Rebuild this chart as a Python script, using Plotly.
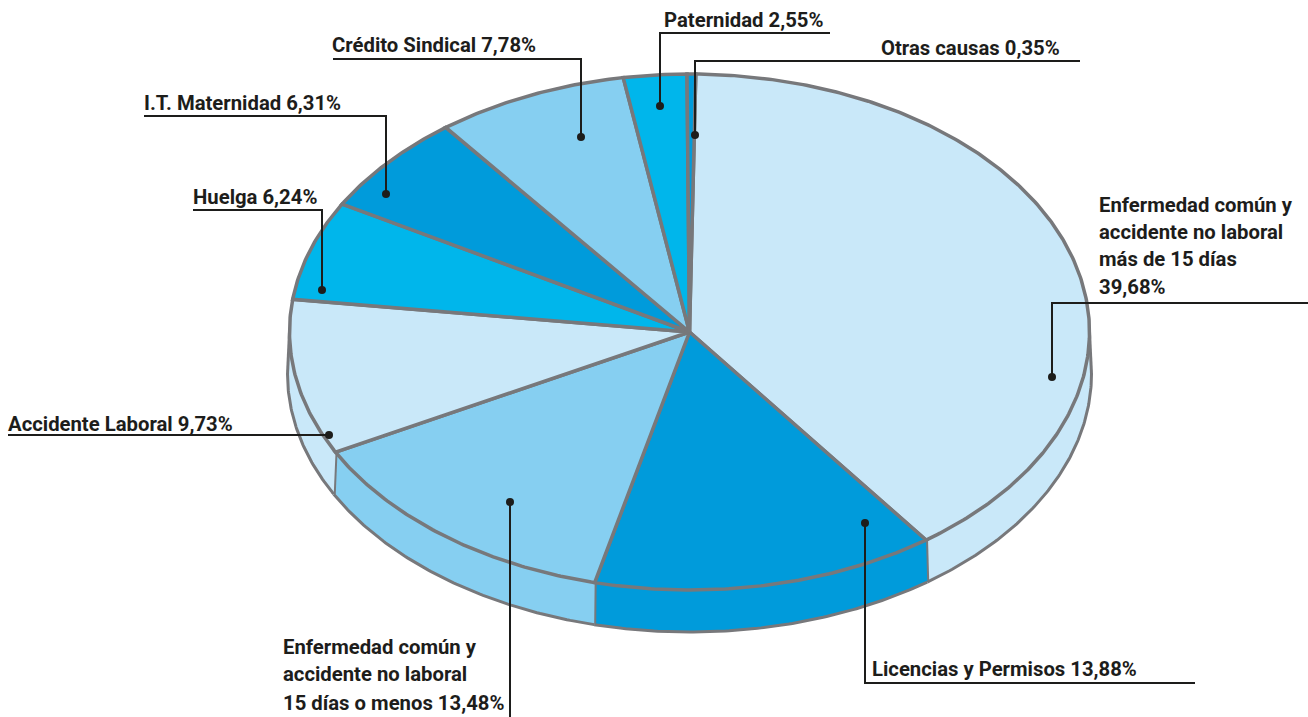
import numpy as np
import plotly.graph_objects as go

# Chart data: clockwise from the top of the pie
categories = ["Enfermedad común y accidente no laboral más de 15 días",
              "Licencias y Permisos", "Enfermedad común y accidente no laboral 15 días o menos",
              "Accidente Laboral", "Huelga", "I.T. Maternidad", "Crédito Sindical",
              "Paternidad", "Otras causas"]
values = [39.68, 13.88, 13.48, 9.73, 6.24, 6.31, 7.78, 2.55, 0.35]
colors = ["#c9e8f9", "#009bdb", "#86cff1", "#c9e8f9", "#00b6eb", "#009bdb", "#86cff1", "#00b6eb", "#009bdb"]

# Label lines (text, x, y of line centre)
label_lines = [
    ("Paternidad 2,55%", 664, 20), ("Otras causas 0,35%", 881, 48),
    ("Crédito Sindical 7,78%", 332, 45), ("I.T. Maternidad 6,31%", 144, 103),
    ("Huelga 6,24%", 193, 197), ("Accidente Laboral 9,73%", 8, 424),
    ("Enfermedad común y", 283, 647), ("accidente no laboral", 283, 674),
    ("15 días o menos 13,48%", 283, 703),
    ("Licencias y Permisos 13,88%", 872, 669),
    ("Enfermedad común y", 1099, 205), ("accidente no laboral", 1099, 232),
    ("más de 15 días", 1099, 259), ("39,68%", 1099, 287),
]
# Leader lines (polyline vertices, the last one carries the dot)
leaders = [
    [(830, 33), (660, 33), (660, 106)],
    [(1080, 61), (695, 61), (695, 135)],
    [(333, 59), (581, 59), (581, 137)],
    [(144, 116), (386, 116), (386, 194)],
    [(193, 210), (322, 210), (322, 290)],
    [(8, 435), (329, 435)],
    [(510, 717), (510, 502)],
    [(1195, 683), (865, 683), (865, 523)],
    [(1308, 303), (1052, 303), (1052, 377)],
]

CX, CY, RX, RY, DEPTH = 689.5, 332, 400, 258, 42
START = 0.9
GRAY, INK = "#77787b", "#1d1d1b"


def rim(a0, a1, dy=0, rx=RX):
    t = np.radians(np.linspace(a0, a1, max(int(abs(a1 - a0) * 2), 2)))
    return CX + rx * np.sin(t), CY + dy - RY * np.cos(t)


edges = START + np.cumsum([0] + values) * 3.6
fig = go.Figure()


def seg(x, y, width):
    fig.add_trace(go.Scatter(x=list(x), y=list(y), mode="lines", line=dict(color=GRAY, width=width),
                             hoverinfo="skip", showlegend=False))


# Side wall: only the front half (90..270 deg) of each slice shows
for v0, v1, c in zip(edges[:-1], edges[1:], colors):
    a0, a1 = max(v0, 90), min(v1, 270)
    if a1 > a0:
        xt, yt = rim(a0, a1)
        xb, yb = rim(a1, a0, DEPTH, RX + 2)
        fig.add_trace(go.Scatter(x=list(xt) + list(xb) + [xt[0]], y=list(yt) + list(yb) + [yt[0]],
                                 mode="lines", fill="toself", fillcolor=c, line=dict(width=0),
                                 hoverinfo="skip", showlegend=False))
        seg(xb, yb, 3)
        if a0 == 90:      # wall outline rises back to the top rim at the sides
            seg([xb[-1], xt[0]], [yb[-1], yt[0]], 3)
        if a1 == 270:
            seg([xb[0], xt[-1]], [yb[0], yt[-1]], 3)
        if v1 < 270:
            seg([xt[-1], xb[0]], [yt[-1], yb[0]], 4)

# Top face
for v0, v1, c in zip(edges[:-1], edges[1:], colors):
    xt, yt = rim(v0, v1)
    fig.add_trace(go.Scatter(x=[CX] + list(xt) + [CX], y=[CY] + list(yt) + [CY], mode="lines",
                             fill="toself", fillcolor=c, line=dict(color=GRAY, width=3.5),
                             hoverinfo="skip", showlegend=False))

# Leaders and dots
for pts in leaders:
    xs, ys = zip(*pts)
    fig.add_trace(go.Scatter(x=xs, y=ys, mode="lines", line=dict(color=INK, width=2),
                             hoverinfo="skip", showlegend=False))
    fig.add_trace(go.Scatter(x=[xs[-1]], y=[ys[-1]], mode="markers", marker=dict(color=INK, size=8),
                             hoverinfo="skip", showlegend=False))

for text, x, y in label_lines:
    fig.add_annotation(x=x, y=y, text=f"<b>{text}</b>", showarrow=False, xanchor="left", yanchor="middle",
                       xshift=-2, font=dict(family="Roboto", size=20.3, color=INK))

fig.update_layout(width=1308, height=717, margin=dict(l=0, r=0, t=0, b=0), paper_bgcolor="white",
                  plot_bgcolor="white", showlegend=False,
                  xaxis=dict(range=[0, 1308], visible=False, fixedrange=True),
                  yaxis=dict(range=[717, 0], visible=False, fixedrange=True))
fig.write_html("out.html", config={"displayModeBar": False},
               post_script="document.body.style.margin='0';document.body.style.overflow='hidden';")
